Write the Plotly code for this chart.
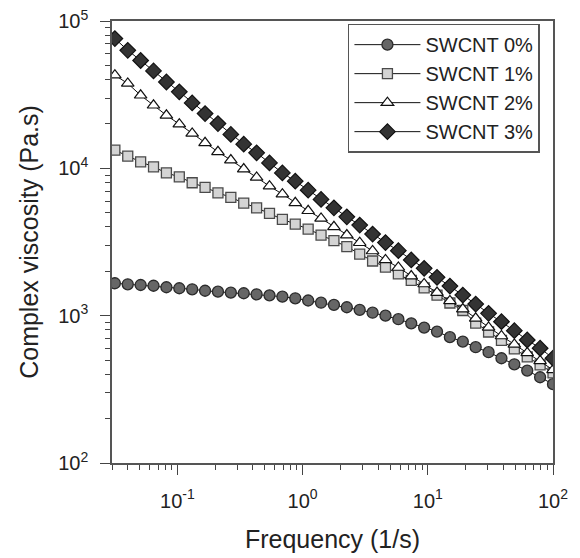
import numpy as np
import plotly.graph_objects as go

# Frequency (1/s): 35 log-spaced points from 10^-1.5 to 10^2
freq = np.logspace(-1.5, 2, 35)

# log10 of complex viscosity (Pa.s)
log_eta_0 = [3.220, 3.213, 3.208, 3.203, 3.193, 3.186, 3.179, 3.169, 3.163, 3.156,
             3.152, 3.145, 3.138, 3.129, 3.118, 3.103, 3.088, 3.073, 3.057, 3.039,
             3.020, 3.000, 2.976, 2.948, 2.919, 2.892, 2.854, 2.824, 2.786, 2.752,
             2.711, 2.670, 2.627, 2.582, 2.535]
log_eta_1 = [4.123, 4.083, 4.044, 4.010, 3.969, 3.942, 3.902, 3.871, 3.834, 3.803,
             3.764, 3.732, 3.694, 3.654, 3.622, 3.588, 3.547, 3.510, 3.469, 3.418,
             3.371, 3.330, 3.283, 3.239, 3.189, 3.140, 3.086, 3.035, 2.950, 2.889,
             2.832, 2.774, 2.720, 2.666, 2.612]
log_eta_2 = [4.632, 4.576, 4.496, 4.428, 4.360, 4.300, 4.237, 4.173, 4.112, 4.056,
             3.995, 3.938, 3.879, 3.825, 3.766, 3.712, 3.660, 3.603, 3.547, 3.495,
             3.439, 3.378, 3.327, 3.269, 3.215, 3.157, 3.100, 3.045, 2.982, 2.920,
             2.862, 2.805, 2.747, 2.693, 2.632]
log_eta_3 = [4.881, 4.801, 4.732, 4.661, 4.586, 4.519, 4.444, 4.372, 4.304, 4.230,
             4.164, 4.105, 4.037, 3.969, 3.913, 3.852, 3.789, 3.732, 3.671, 3.615,
             3.554, 3.496, 3.441, 3.378, 3.321, 3.260, 3.201, 3.140, 3.079, 3.016,
             2.959, 2.898, 2.835, 2.779, 2.711]

series_names = ["SWCNT 0%", "SWCNT 1%", "SWCNT 2%", "SWCNT 3%"]
series_logs = [log_eta_0, log_eta_1, log_eta_2, log_eta_3]

x_tickvals = [0.1, 1, 10, 100]
x_ticktext = ["10<sup>-1</sup>", "10<sup>0</sup>", "10<sup>1</sup>", "10<sup>2</sup>"]
y_tickvals = [100, 1000, 10000, 100000]
y_ticktext = ["10<sup>2</sup>", "10<sup>3</sup>", "10<sup>4</sup>", "10<sup>5</sup>"]

styles = [
    dict(symbol="circle", size=11, color="#666666", line=dict(color="#2a2a2a", width=1.3)),
    dict(symbol="square", size=10, color="#d4d4d4", line=dict(color="#4a4a4a", width=1.3)),
    dict(symbol="triangle-up", size=11, color="#ffffff", line=dict(color="#111111", width=1.2)),
    dict(symbol="diamond", size=12, color="#333333", line=dict(color="#111111", width=1.2)),
]

fig = go.Figure()
for name, logs, st in zip(series_names, series_logs, styles):
    fig.add_trace(go.Scatter(
        x=freq, y=10 ** np.array(logs), name=name, mode="lines+markers",
        line=dict(color="#111111", width=1),
        marker=st,
    ))

font_family = "Liberation Sans, Arial, sans-serif"
axis_common = dict(
    showline=True, linecolor="#555555", linewidth=1.5, mirror=True,
    ticks="outside", ticklen=10, tickwidth=1.3, tickcolor="#444444",
    showgrid=False, zeroline=False,
    tickfont=dict(size=20, color="#222222", family=font_family),
    minor=dict(ticks="outside", ticklen=5, tickwidth=1.2, tickcolor="#444444",
               dtick="D1", showgrid=False),
)

fig.update_xaxes(
    type="log", range=[np.log10(0.03), 2],
    tickvals=x_tickvals, ticktext=x_ticktext,
    ticklabelstandoff=9,
    title=dict(text="Frequency (1/s)", font=dict(size=25, color="#222222", family=font_family),
               standoff=20),
    **axis_common,
)
fig.update_yaxes(
    type="log", range=[2, 5],
    tickvals=y_tickvals, ticktext=y_ticktext,
    ticklabelstandoff=8,
    title=dict(text="Complex viscosity (Pa.s)", font=dict(size=25, color="#222222", family=font_family),
               standoff=12),
    **axis_common,
)

fig.update_layout(
    width=580, height=558,
    margin=dict(l=112, r=27, t=21, b=95, autoexpand=False),
    plot_bgcolor="white", paper_bgcolor="white",
    font=dict(family=font_family, color="#222222"),
    legend=dict(
        x=0.535, y=0.994, xanchor="left", yanchor="top",
        bgcolor="white", bordercolor="#555555", borderwidth=1.5,
        font=dict(size=20, color="#222222", family=font_family),
        tracegroupgap=0, itemwidth=66,
    ),
)

fig.write_html("out.html")
